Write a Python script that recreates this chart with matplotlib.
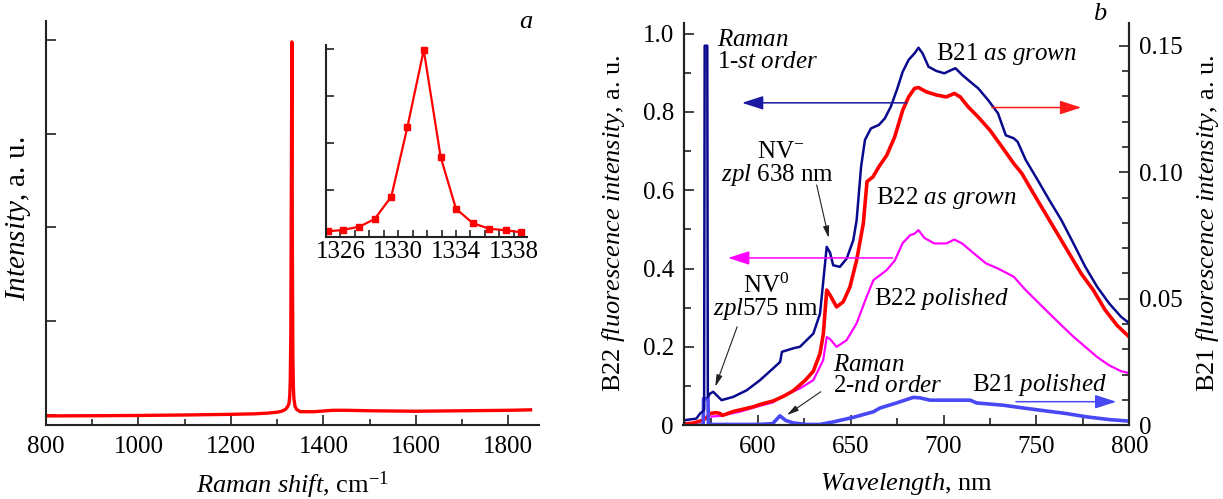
import matplotlib
matplotlib.use("Agg")
import matplotlib.pyplot as plt
from matplotlib.patches import FancyArrowPatch
from matplotlib.ticker import MultipleLocator, FixedLocator, NullFormatter

plt.rcParams['font.family'] = ['Liberation Serif', 'DejaVu Serif']
plt.rcParams['mathtext.fontset'] = 'custom'
plt.rcParams['mathtext.rm'] = 'Liberation Serif'
plt.rcParams['mathtext.it'] = 'Liberation Serif:italic'
plt.rcParams['mathtext.bf'] = 'Liberation Serif:bold'

# ---------------- data: panel a (Raman spectrum) ----------------
raman_shift = [800, 900, 1000, 1100, 1200, 1250, 1280, 1300, 1310, 1318, 1322,
               1325.13, 1326.16, 1327.31, 1328.37, 1329.52, 1330.64, 1331.77,
               1332.94, 1334.0, 1335.15, 1336.28, 1337.45, 1338.53, 1342, 1350,
               1380, 1420, 1450, 1500, 1600, 1700, 1800, 1848]
raman_int = [-0.01, -0.008, -0.005, 0.0, 0.007, 0.012, 0.02, 0.03, 0.04, 0.06, 0.085,
             0.115, 0.143, 0.213, 0.377, 0.853, 2.339, 3.98,
             1.699, 0.597, 0.292, 0.171, 0.136, 0.094, 0.06, 0.035,
             0.035, 0.05, 0.05, 0.045, 0.04, 0.045, 0.05, 0.055]

# inset: zoom on the diamond line
inset_shift = [1325.13, 1326.16, 1327.31, 1328.37, 1329.52, 1330.64, 1331.77,
               1332.94, 1334.0, 1335.15, 1336.28, 1337.45, 1338.53]
inset_int = [0.115, 0.143, 0.213, 0.377, 0.853, 2.339, 3.98,
             1.699, 0.597, 0.292, 0.171, 0.136, 0.094]

# ---------------- data: panel b (photoluminescence) ----------------
# B21 as grown (right axis), includes the first-order Raman line
b21_grown_wl = [560.0, 560.8, 566.9, 568.9, 570.5, 571.1, 571.4, 572.8, 573.1, 574.3,
                576.0, 580.5, 586.8, 594.0, 601.2, 608.3, 612.0, 613.0, 619.1, 622.7,
                629.9, 633.5, 635.3, 637.1, 638.9, 640.6, 644.2, 647.8, 651.4, 653.2,
                655.6, 657.7, 660.9, 665.2, 668.4, 671.6, 674.8, 678.0, 681.2, 684.4,
                686.5, 688.7, 691.9, 696.2, 700.4, 703.6, 706.4, 710.0, 714.3, 718.6,
                723.9, 729.3, 733.5, 737.8, 739.9, 744.2, 750.6, 757.0, 763.5, 769.9,
                776.3, 782.7, 789.1, 795.5, 800.0]
b21_grown = [0.0017, 0.0020, 0.0026, 0.0046, 0.0055, 0.0062, 0.1500, 0.1500, 0.0110, 0.0125,
             0.0132, 0.0099, 0.0112, 0.0138, 0.0178, 0.0225, 0.0250, 0.0290, 0.0304, 0.0310,
             0.0362, 0.0441, 0.0573, 0.0705, 0.0682, 0.0632, 0.0626, 0.0658, 0.0731, 0.0810,
             0.1022, 0.1128, 0.1173, 0.1187, 0.1213, 0.1259, 0.1324, 0.1397, 0.1444, 0.1470,
             0.1492, 0.1470, 0.1417, 0.1400, 0.1391, 0.1402, 0.1411, 0.1385, 0.1358, 0.1332,
             0.1286, 0.1233, 0.1146, 0.1134, 0.1120, 0.1049, 0.0970, 0.0889, 0.0810, 0.0719,
             0.0626, 0.0547, 0.0482, 0.0429, 0.0403]

# B22 as grown (left axis)
b22_grown_wl = [560.0, 565.0, 570.7, 572.5, 574.3, 577.6, 579.6, 581.0, 586.8, 597.6,
                601.2, 608.3, 613.9, 619.1, 625.6, 629.9, 633.5, 635.3, 637.1, 638.9,
                642.4, 646.0, 649.6, 653.2, 656.8, 658.8, 662.0, 665.2, 669.4, 673.7,
                678.0, 681.2, 684.4, 686.5, 690.8, 696.2, 701.5, 705.8, 709.0, 713.2,
                718.6, 725.0, 731.4, 737.8, 742.1, 748.5, 754.9, 761.3, 767.7, 774.1,
                780.6, 787.0, 793.4, 800.0]
b22_grown = [0.003, 0.005, 0.013, 0.02, 0.03, 0.032, 0.03, 0.025, 0.035, 0.047,
             0.053, 0.062, 0.074, 0.088, 0.115, 0.138, 0.183, 0.234, 0.345, 0.332,
             0.302, 0.315, 0.353, 0.421, 0.515, 0.622, 0.634, 0.66, 0.689, 0.736,
             0.804, 0.838, 0.86, 0.862, 0.851, 0.843, 0.838, 0.847, 0.838, 0.813,
             0.787, 0.753, 0.711, 0.668, 0.643, 0.591, 0.54, 0.489, 0.438, 0.387,
             0.345, 0.294, 0.255, 0.225]

# B22 polished (left axis)
b22_pol_wl = [575.0, 580.0, 590.0, 600.0, 608.0, 614.6, 622.7, 629.9, 635.2, 637.1,
              638.9, 642.4, 647.8, 653.2, 658.6, 662.2, 669.4, 673.7, 678.0, 682.0,
              684.4, 686.5, 689.7, 695.0, 701.5, 705.8, 710.0, 716.5, 722.9, 729.3,
              737.8, 744.2, 750.6, 757.0, 763.5, 769.9, 776.3, 782.7, 789.1, 795.5,
              800.0]
b22_pol = [0.022, 0.024, 0.034, 0.048, 0.058, 0.077, 0.094, 0.115, 0.166, 0.225,
           0.22, 0.2, 0.217, 0.26, 0.328, 0.37, 0.396, 0.42, 0.465, 0.485,
           0.489, 0.498, 0.478, 0.464, 0.464, 0.474, 0.464, 0.438, 0.413, 0.4,
           0.379, 0.345, 0.315, 0.285, 0.255, 0.226, 0.2, 0.174, 0.153, 0.138,
           0.133]

# B21 polished (right axis), with its Raman line
b21_pol_wl = [568.0, 570.6, 570.8, 573.2, 573.4, 586.8, 600.0, 608.0, 611.9, 615.0,
              619.0, 626.0, 633.5, 640.6, 651.4, 662.2, 665.8, 674.7, 683.7, 687.3,
              692.7, 714.3, 717.8, 732.1, 742.9, 755.5, 766.2, 777.0, 789.5, 798.5,
              800.0]
b21_pol = [0.0, 0.0, 0.0105, 0.0105, 0.0003, 0.0003, 0.0003, 0.0006, 0.0037, 0.0019,
           0.0009, 0.0003, 0.0003, 0.0013, 0.0031, 0.0053, 0.0068, 0.0088, 0.0110, 0.0108,
           0.0099, 0.0099, 0.0088, 0.0079, 0.0068, 0.0056, 0.0046, 0.0033, 0.0022, 0.0017,
           0.0016]

NAVY = '#0a0a8e'
RED = '#ff0000'
MAGENTA = '#ff00ff'
LBLUE = '#4848f4'

W, H = 1223, 499
fig = plt.figure(figsize=(W / 100, H / 100), dpi=100)

TICK_FS = 18
LAB_FS = 19
NOTE_FS = 18


def style_spines(ax, visible):
    for side in ['top', 'right', 'left', 'bottom']:
        ax.spines[side].set_visible(side in visible)
        ax.spines[side].set_linewidth(1.5)
        ax.spines[side].set_color('#222222')


# ---------------- panel a ----------------
ax_a = fig.add_axes([46 / W, 1 - 425.3 / H, (539.3 - 46) / W, (425.3 - 20.7) / H])
ax_a.plot(raman_shift, raman_int, color=RED, lw=2.4, solid_joinstyle='round')
ax_a.set_xlim(800, 1867)
ax_a.set_ylim(-0.11, 4.206)
style_spines(ax_a, ['left', 'bottom'])
ax_a.xaxis.set_major_locator(MultipleLocator(200))
ax_a.xaxis.set_minor_locator(MultipleLocator(100))
ax_a.yaxis.set_major_locator(MultipleLocator(1))
ax_a.yaxis.set_major_formatter(NullFormatter())
ax_a.tick_params(which='both', direction='in', width=1.2, color='#222222',
                 labelsize=TICK_FS, pad=8, top=False, right=False)
ax_a.tick_params(which='major', length=7.5)
ax_a.tick_params(which='minor', length=4.5)
ax_a.text(0.5, -0.1673, r'$\mathit{Raman\ shift}$, cm$^{-1}$', transform=ax_a.transAxes,
          ha='center', va='baseline', fontsize=LAB_FS)
ax_a.text(-0.056, 0.51, r'$\mathit{Intensity}$, a. u.', transform=ax_a.transAxes,
          ha='center', va='center', rotation=90, fontsize=21)
ax_a.text(0.960, 0.982, 'a', transform=ax_a.transAxes, ha='left', va='baseline',
          fontsize=LAB_FS, style='italic')

# inset
ax_in = fig.add_axes([326 / W, 1 - 236.7 / H, (526.7 - 326) / W, (236.7 - 45) / H])
ax_in.plot(inset_shift, inset_int, color=RED, lw=1.6, marker='s', markersize=4.6)
ax_in.set_xlim(1325.0, 1338.9)
ax_in.set_ylim(0, 4.085)
style_spines(ax_in, ['left', 'bottom'])
ax_in.xaxis.set_major_locator(FixedLocator([1326, 1330, 1334, 1338]))
ax_in.xaxis.set_minor_locator(MultipleLocator(1))
ax_in.yaxis.set_major_locator(MultipleLocator(1))
ax_in.yaxis.set_major_formatter(NullFormatter())
ax_in.tick_params(which='both', direction='in', width=1.2, color='#222222',
                  labelsize=TICK_FS, pad=3, top=False, right=False)
ax_in.tick_params(which='major', length=5)
ax_in.tick_params(which='minor', length=5)
ax_in.tick_params(axis='y', which='major', length=6)

# ---------------- panel b ----------------
ax_b = fig.add_axes([683.5 / W, 1 - 425.2 / H, (1129.3 - 683.5) / W, (425.2 - 22.7) / H])
ax_r = ax_b.twinx()
ax_b.plot(b22_pol_wl, b22_pol, color=MAGENTA, lw=1.6)
ax_b.plot(b22_grown_wl, b22_grown, color=RED, lw=2.6)
ax_r.plot(b21_pol_wl, b21_pol, color=LBLUE, lw=2.6)
ax_r.plot(b21_grown_wl, b21_grown, color=NAVY, lw=1.8)

ax_b.set_xlim(560, 800)
ax_b.set_ylim(0, 1.0276)
ax_r.set_ylim(0, 0.1591)
for ax in (ax_b, ax_r):
    style_spines(ax, ['left', 'bottom', 'right'])
ax_b.xaxis.set_major_locator(MultipleLocator(50))
ax_b.xaxis.set_minor_locator(MultipleLocator(25))
ax_b.yaxis.set_major_locator(MultipleLocator(0.2))
ax_b.yaxis.set_minor_locator(MultipleLocator(0.1))
ax_b.yaxis.set_major_formatter(lambda v, p: '0' if abs(v) < 1e-9 else f'{v:.1f}')
ax_r.yaxis.set_major_locator(MultipleLocator(0.05))
ax_r.yaxis.set_minor_locator(MultipleLocator(0.01))
ax_r.yaxis.set_major_formatter(lambda v, p: '0' if abs(v) < 1e-9 else f'{v:.2f}')
for ax in (ax_b, ax_r):
    ax.tick_params(which='both', direction='in', width=1.2, color='#222222',
                   labelsize=TICK_FS, pad=7, top=False)
    ax.tick_params(which='major', length=7.5)
    ax.tick_params(which='minor', length=4.8)
    ax.tick_params(axis='x', pad=8)
ax_b.tick_params(right=False, which='both')
ax_r.tick_params(left=False, which='both')

ax_b.text(0.5, -0.161, r'$\mathit{Wavelength}$, nm', transform=ax_b.transAxes,
          ha='center', va='baseline', fontsize=LAB_FS)
ax_b.text(-0.1575, 0.502, r'B22 $\mathit{fluorescence\ intensity}$, a. u.',
          transform=ax_b.transAxes, ha='center', va='center', rotation=90, fontsize=LAB_FS)
ax_b.text(1.175, 0.502, r'B21 $\mathit{fluorescence\ intensity}$, a. u.',
          transform=ax_b.transAxes, ha='center', va='center', rotation=90, fontsize=LAB_FS)
ax_b.text(0.919, 1.0067, 'b', transform=ax_b.transAxes, ha='left', va='baseline',
          fontsize=LAB_FS, style='italic')

# annotations, placed in left-axis data units
tr = ax_b.transData
notes = [
    (578.0, 0.9683, r'$\mathit{Raman}$'),
    (578.0, 0.911, r'1-$\mathit{st\ order}$'),
    (695.9, 0.9325, r'B21 $\mathit{as\ grown}$'),
    (599.6, 0.6823, r'NV$^{-}$'),
    (580.2, 0.624, r'$\mathit{zpl}$ 638 nm'),
    (663.6, 0.5646, r'B22 $\mathit{as\ grown}$'),
    (592.0, 0.338, r'NV$^{0}$'),
    (575.9, 0.281, r'$\mathit{zpl}$575 nm'),
    (662.5, 0.307, r'B22 $\mathit{polished}$'),
    (640.5, 0.1389, r'$\mathit{Raman}$'),
    (640.5, 0.0855, r'2-$\mathit{nd\ order}$'),
    (715.3, 0.088, r'B21 $\mathit{polished}$'),
]
for x, y, s in notes:
    ax_r.text(x, y, s, transform=tr, ha='left', va='baseline', fontsize=NOTE_FS, zorder=5)

# thin pointers to spectral features
pointers = [
    ((631.7, 0.6133), (638.2, 0.478)),
    ((588.9, 0.2515), (577.1, 0.0983)),
    ((633.9, 0.0855), (615.7, 0.026)),
]
for (x0, y0), (x1, y1) in pointers:
    ax_r.add_patch(FancyArrowPatch((x0, y0), (x1, y1), transform=tr,
                                   arrowstyle='-|>,head_length=0.7,head_width=0.18',
                                   mutation_scale=10, lw=0.8, color='#222222',
                                   shrinkA=0, shrinkB=0, zorder=6))

# coloured arrows pointing to the axis each curve belongs to
axis_arrows = [
    ((680.1, 0.823), (591.5, 0.823), '#1a1aa0'),
    ((726.1, 0.811), (774.1, 0.811), '#ff1a1a'),
    ((672.6, 0.427), (584.0, 0.427), MAGENTA),
    ((739.0, 0.060), (793.0, 0.060), LBLUE),
]
for (x0, y0), (x1, y1), c in axis_arrows:
    ax_r.add_patch(FancyArrowPatch((x0, y0), (x1, y1), transform=tr,
                                   arrowstyle='-|>,head_length=1.3,head_width=0.42',
                                   mutation_scale=10, lw=1.1, color=c,
                                   shrinkA=0, shrinkB=0, zorder=6))

fig.savefig('out.png', dpi=100)
